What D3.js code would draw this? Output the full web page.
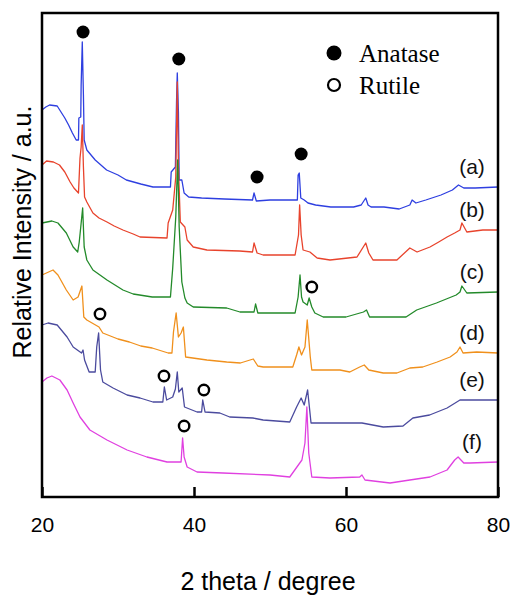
<!DOCTYPE html>
<html>
<head>
<meta charset="utf-8">
<script src="https://cdn.jsdelivr.net/npm/d3@7"></script>
<style>
  html, body { margin: 0; padding: 0; background: #fff; }
  svg { display: block; }
</style>
</head>
<body>
<svg id="chart" width="511" height="599"></svg>
<script>
// ---- data (2 theta in degree, relative intensity in a.u.) ----
const sampleLabels = ["(a)", "(b)", "(c)", "(d)", "(e)", "(f)"];
const xTicks = [20, 40, 60, 80];

const traceA = [[20,387],[20.5,390],[21,392],[22,391],[22.5,385],[23,379],[23.5,372],[24,364],[24.5,357],[24.8,357],[24.85,379],[25.1,380],[25.15,412],[25.3,455],[25.45,402],[25.55,357],[25.9,347],[27,337],[28.5,327],[30,322],[31.1,317],[33,313],[34.6,310],[36.9,310],[37.0,325],[37.55,330],[37.7,395],[37.8,424],[37.95,385],[38.05,317],[38.4,317],[38.7,304],[39.3,300],[41,299],[44,298],[47.7,297],[47.9,304],[48.2,296],[50,297],[53.6,297],[53.7,322],[53.85,324],[54.05,299],[54.5,297],[55,294],[56,292],[58,290],[61,290],[62,292],[62.6,299],[62.9,292],[63.3,290],[65,290],[67,288],[68.4,292],[68.7,297],[69.2,294],[70.5,297],[72.5,302],[74,307],[74.8,312],[75.5,309],[77,309],[80,310]];

const traceB = [[20,332],[20.6,336],[21.5,335],[22.3,332],[23,325],[23.7,315],[24.2,309],[24.8,304],[25,339],[25.15,350],[25.3,372],[25.45,330],[25.6,300],[25.9,295],[26.7,284],[27.5,279],[28.55,275],[29.5,271],[30.65,267],[32,263],[32.9,260],[36.45,259],[36.6,274],[37.2,287],[37.6,320],[37.8,415],[37.95,330],[38.2,275],[38.8,270],[39.1,257],[39.9,250],[41.7,247],[46,246],[47.7,245],[47.9,254],[48.3,244],[49.1,242],[53.3,242],[53.75,262],[53.9,292],[54.1,262],[54.35,247],[55.25,245],[56.2,239],[57.9,237],[61.45,240],[62.6,254],[63,244],[63.55,237],[66.7,237],[68.4,249],[69.35,245],[71.05,250],[72.2,255],[73.3,260],[74.3,264],[75,267],[75.25,274],[75.9,265],[78,267],[80,267]];

const traceC = [[20,274],[21.3,276],[22.1,274],[23.2,264],[24.1,250],[24.7,245],[24.9,255],[25.1,270],[25.35,289],[25.55,250],[25.9,237],[26.7,227],[28.55,217],[30.65,207],[32,203],[34.5,200],[36.9,200],[37.2,229],[37.6,280],[37.85,337],[38.05,270],[38.4,215],[38.8,199],[39.1,194],[39.9,190],[44.3,189],[46.05,185],[47.9,185],[48.1,193],[48.4,184],[53.3,184],[53.7,200],[53.95,222],[54.15,200],[54.35,195],[54.9,192],[55.15,199],[55.5,190],[55.9,184],[57,180],[60,180],[62.3,185],[62.7,187],[63.1,180],[67.9,180],[69.3,187],[71.9,194],[74.5,202],[75,205],[75.25,211],[75.9,204],[80,205]];

const traceD = [[20,222],[21.45,227],[22.1,222],[23.2,207],[24.1,197],[24.75,200],[25.25,211],[25.5,180],[25.9,177],[27.5,170],[28,164],[30,158],[31.5,155],[33,151],[34.5,149],[36.6,144],[37.1,144],[37.3,165],[37.65,184],[37.95,160],[38.3,164],[38.6,170],[38.9,140],[41.7,137],[44.3,135],[46.1,134],[47.8,138],[48.4,131],[49.1,130],[53,130],[53.5,142],[53.8,150],[54.15,142],[54.6,150],[54.9,177],[55.3,140],[55.5,127],[59.2,127],[60.5,125],[61.8,130],[62.4,132],[63,127],[64.9,124],[66.7,124],[68.4,129],[70.1,130],[72,135],[73.7,140],[74.6,145],[75,150],[75.4,144],[77.2,145],[80,144]];

const traceE = [[20,172],[20.8,174],[22,172],[23.3,160],[24.1,150],[25.2,144],[25.4,147],[25.6,137],[26.2,125],[27,125],[27.2,150],[27.45,164],[27.7,127],[28,115],[29.35,109],[31.2,102],[32.9,99],[34.6,95],[35.9,95],[36.1,110],[36.4,97],[37.2,100],[37.55,108],[37.8,125],[38,105],[38.45,109],[38.75,90],[40.4,85],[41,85],[41.15,97],[41.45,85],[43.4,84],[44.7,80],[47.75,79],[49.1,77],[52.6,75],[53.5,90],[54.1,99],[54.5,92],[54.95,107],[55.4,74],[57.9,74],[62.1,74],[64.9,70],[67.5,71],[68.8,79],[71,82],[73.3,89],[75,97],[80,97]];

const traceF = [[20,115],[20.65,119],[21.3,121],[22.35,117],[23.3,107],[24.1,94],[25,80],[26.3,67],[28.55,57],[31.2,47],[33.8,40],[36.45,35],[38.3,35],[38.5,59],[38.7,40],[39.1,30],[40.4,25],[43.8,24],[50,22],[52.6,20],[54.2,37],[54.6,54],[54.85,90],[55.1,44],[55.5,20],[57.9,19],[61.8,20],[62.1,22],[62.5,17],[65.8,14],[68.4,17],[71.05,20],[73.3,27],[74.3,37],[74.75,40],[75.5,34],[76.3,34],[80,35]];

const anatasePeaks = [[25.4,465],[38.0,438],[48.3,320],[54.1,343]];
const rutilePeaks = [[27.63,183],[55.5,210],[36.05,121],[41.3,107],[38.7,71]];
const legendNames = ["Anatase", "Rutile"];

// ---- styles ----
const traces = [traceA, traceB, traceC, traceD, traceE, traceF];
const colors = ["#2e3fe0", "#e8432c", "#238a2a", "#f0901c", "#4b4b9e", "#e040e0"];

const svg = d3.select("#chart");
const x = d3.scaleLinear().domain([20, 80]).range([42, 498]);
const y = d3.scaleLinear().domain([0, 484]).range([497, 13]);

const line = d3.line()
  .x(d => x(d[0]))
  .y(d => y(d[1]))
  .curve(d3.curveLinear);

// traces
traces.forEach((t, i) => {
  svg.append("path")
    .datum(t)
    .attr("d", line)
    .attr("fill", "none")
    .attr("stroke", colors[i])
    .attr("stroke-width", 1.3)
    .attr("stroke-linejoin", "round");
});

// sample labels
traces.forEach((t, i) => {
  const last = t[t.length - 1];
  svg.append("text")
    .attr("x", 472)
    .attr("y", y(last[1]) - 21)
    .attr("text-anchor", "middle")
    .attr("dominant-baseline", "central")
    .attr("font-family", "Liberation Sans, Arial, sans-serif")
    .attr("font-size", 21)
    .attr("fill", "#111")
    .text(sampleLabels[i]);
});

// markers
svg.selectAll("circle.anatase")
  .data(anatasePeaks)
  .join("circle")
  .attr("class", "anatase")
  .attr("cx", d => x(d[0]))
  .attr("cy", d => y(d[1]))
  .attr("r", 6.5)
  .attr("fill", "#000");

svg.selectAll("circle.rutile")
  .data(rutilePeaks)
  .join("circle")
  .attr("class", "rutile")
  .attr("cx", d => x(d[0]))
  .attr("cy", d => y(d[1]))
  .attr("r", 5.2)
  .attr("fill", "#fff")
  .attr("stroke", "#000")
  .attr("stroke-width", 2.4);

// legend
const lg = svg.append("g");
lg.append("circle").attr("cx", 334).attr("cy", 53).attr("r", 7.5).attr("fill", "#000");
lg.append("circle").attr("cx", 334).attr("cy", 85).attr("r", 6).attr("fill", "#fff")
  .attr("stroke", "#000").attr("stroke-width", 2.2);
legendNames.forEach((n, i) => {
  lg.append("text")
    .attr("x", 359)
    .attr("y", 62 + i * 32)
    .attr("font-family", "Liberation Serif, Times New Roman, serif")
    .attr("font-size", 25)
    .attr("fill", "#000")
    .text(n);
});

// x axis
const xAxis = d3.axisBottom(x)
  .tickValues(xTicks)
  .tickFormat(d3.format("d"))
  .tickSizeInner(-10)
  .tickSizeOuter(0)
  .tickPadding(20);

const gx = svg.append("g")
  .attr("transform", "translate(0,497)")
  .call(xAxis);
gx.select(".domain").remove();
gx.selectAll(".tick line").attr("stroke", "#000").attr("stroke-width", 2.5);
gx.selectAll(".tick text")
  .attr("font-family", "Liberation Sans, Arial, sans-serif")
  .attr("font-size", 21)
  .attr("fill", "#000");

// frame
svg.append("rect")
  .attr("x", 42).attr("y", 13)
  .attr("width", 456).attr("height", 484)
  .attr("fill", "none")
  .attr("stroke", "#000")
  .attr("stroke-width", 2.5);

// axis titles
svg.append("text")
  .attr("x", 268).attr("y", 590)
  .attr("text-anchor", "middle")
  .attr("font-family", "Liberation Sans, Arial, sans-serif")
  .attr("font-size", 25)
  .attr("fill", "#000")
  .text("2 theta / degree");

svg.append("text")
  .attr("transform", "translate(31,232) rotate(-90)")
  .attr("text-anchor", "middle")
  .attr("font-family", "Liberation Sans, Arial, sans-serif")
  .attr("font-size", 25)
  .attr("fill", "#000")
  .text("Relative Intensity / a.u.");
</script>
</body>
</html>
